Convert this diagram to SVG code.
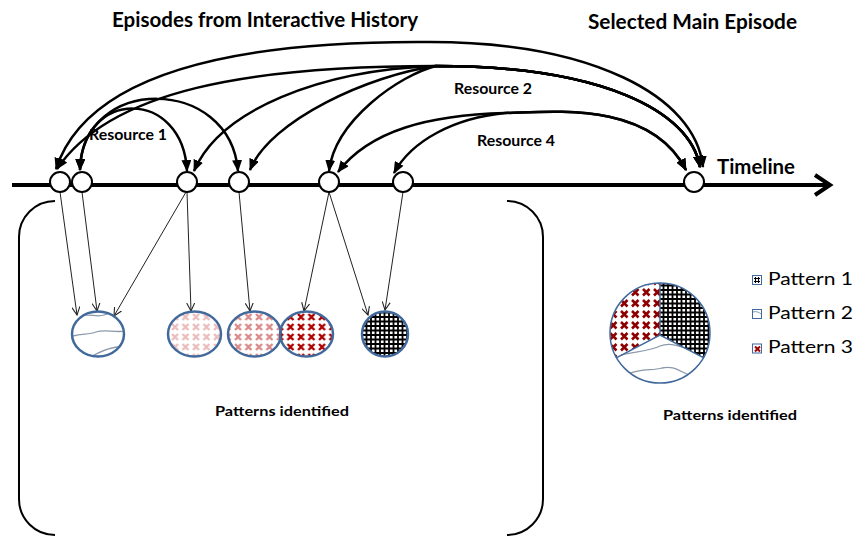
<svg xmlns="http://www.w3.org/2000/svg" width="856" height="537" viewBox="0 0 856 537">
<style>
  .t { font-family: Lato, "Liberation Sans", sans-serif; fill: #000; }
  .b { font-weight: bold; }
  .arc { fill: none; stroke: #000; stroke-width: 2.5; marker-start: url(#ah); marker-end: url(#ah); }
  .thin { fill: none; stroke: #222; stroke-width: 1; marker-end: url(#oh); }
  .ep { fill: #fff; stroke: #000; stroke-width: 2; }
  .pc { stroke: #41699b; stroke-width: 2.5; }
  .wave { fill: none; stroke: #8c99ab; stroke-width: 1.3; }
  .br { fill: none; stroke: #000; stroke-width: 2; }
</style>
<defs>
  <marker id="ah" viewBox="0 0 12 10" refX="11" refY="5" markerWidth="12" markerHeight="10" markerUnits="userSpaceOnUse" orient="auto-start-reverse">
    <path d="M0,0 L12,5 L0,10 Z" fill="#000"/>
  </marker>
  <marker id="oh" viewBox="0 0 10 10" refX="9" refY="5" markerWidth="9" markerHeight="9" markerUnits="userSpaceOnUse" orient="auto">
    <path d="M0,0.5 L9,5 L0,9.5" fill="none" stroke="#222" stroke-width="1.2"/>
  </marker>
  <pattern id="xDark" patternUnits="userSpaceOnUse" width="10.5" height="10" x="2" y="2">
    <path d="M2,2 L8,8 M8,2 L2,8" stroke="#ad0000" stroke-width="2.4"/>
  </pattern>
  <pattern id="xMid" patternUnits="userSpaceOnUse" width="10.5" height="10" x="2" y="2">
    <path d="M2,2 L8,8 M8,2 L2,8" stroke="#d98a8a" stroke-width="2.4"/>
  </pattern>
  <pattern id="xLight" patternUnits="userSpaceOnUse" width="10.5" height="10" x="2" y="2">
    <path d="M2,2 L8,8 M8,2 L2,8" stroke="#ecbcbc" stroke-width="2.4"/>
  </pattern>
  <pattern id="xPie" patternUnits="userSpaceOnUse" width="11" height="11" x="3" y="1">
    <path d="M2,2 L8.5,8.5 M8.5,2 L2,8.5" stroke="#8e0000" stroke-width="2.6"/>
  </pattern>
  <pattern id="grid" patternUnits="userSpaceOnUse" width="9" height="9" x="0" y="0">
    <path d="M2,0 V9 M6.5,0 V9 M0,2 H9 M0,6.5 H9" stroke="#000" stroke-width="1.8"/>
  </pattern>
  <clipPath id="clipA"><ellipse cx="98" cy="334" rx="25" ry="21.5"/></clipPath>
  <clipPath id="clipPieBottom"><path d="M660,335 L616.7,357.7 A50,50 0 0,0 703.3,357.7 Z"/></clipPath>
</defs>

<rect width="856" height="537" fill="#fff"/>

<!-- titles -->
<text class="t b" x="112" y="27" font-size="20" textLength="306" lengthAdjust="spacingAndGlyphs">Episodes from Interactive History</text>
<text class="t b" x="588" y="29" font-size="20" textLength="209" lengthAdjust="spacingAndGlyphs">Selected Main Episode</text>

<!-- timeline -->
<g id="timeline">
  <line x1="12" y1="185" x2="829" y2="185" stroke="#000" stroke-width="4"/>
  <polyline points="815,175 830,185 815,195" fill="none" stroke="#000" stroke-width="4"/>
  <text class="t b" x="717" y="174" font-size="21" textLength="78" lengthAdjust="spacingAndGlyphs">Timeline</text>
</g>

<!-- brackets -->
<g id="bracket">
  <path class="br" d="M55,201 A36,36 0 0,0 19,237 L19,499 A36,36 0 0,0 55,535"/>
  <path class="br" d="M507,201 A36,36 0 0,1 543,237 L543,499 A36,36 0 0,1 507,535"/>
</g>

<!-- connectors -->
<g id="connectors">
  <path class="arc" d="M703,167 C695,95 590,42 430,42 C180,40 80,95 56,169"/>
  <path class="arc" d="M700,167 C690,110 600,66 436,66 C250,66 110,90 57,169"/>
  <path class="arc" d="M700,167 C690,110 600,66 436,66 C320,70 220,110 194,171"/>
  <path class="arc" d="M700,167 C690,110 600,66 436,66 C370,75 270,120 250,170"/>
  <path class="arc" d="M700,167 C690,110 600,66 436,66 C400,75 335,120 329,171"/>
  <path class="arc" d="M80,170 C82,88 183,88 187,171"/>
  <path class="arc" d="M80,170 C82,75 230,75 238,171"/>
  <path class="arc" d="M686,170 C650,100 550,112 505,113 C430,115 370,130 338,172"/>
  <path class="arc" d="M686,170 C650,100 550,112 505,113 C455,118 412,140 394,173"/>

  <path class="thin" d="M60,192 L77,315"/>
  <path class="thin" d="M82,192 L97,311"/>
  <path class="thin" d="M186,192 L114,316"/>
  <path class="thin" d="M187,192 L191,311"/>
  <path class="thin" d="M239,192 L250,311"/>
  <path class="thin" d="M329,192 L304,311"/>
  <path class="thin" d="M329,192 L368,315"/>
  <path class="thin" d="M403,192 L385,310"/>
</g>

<!-- episode nodes on the timeline -->
<g id="ep1"><circle class="ep" cx="60" cy="182" r="10"/></g>
<g id="ep2"><circle class="ep" cx="82" cy="182" r="10"/></g>
<g id="ep3"><circle class="ep" cx="187" cy="182" r="10"/></g>
<g id="ep4"><circle class="ep" cx="239" cy="182" r="10"/></g>
<g id="ep5"><circle class="ep" cx="329" cy="182" r="10"/></g>
<g id="ep6"><circle class="ep" cx="403" cy="182" r="10"/></g>
<g id="epMain"><circle class="ep" cx="694" cy="182" r="10"/></g>

<!-- resource labels -->
<text class="t b" x="89" y="140" font-size="15" textLength="78" lengthAdjust="spacingAndGlyphs">Resource 1</text>
<text class="t b" x="454" y="94" font-size="15" textLength="78" lengthAdjust="spacingAndGlyphs">Resource 2</text>
<text class="t b" x="477" y="146" font-size="15" textLength="78" lengthAdjust="spacingAndGlyphs">Resource 4</text>

<!-- pattern circles -->
<g id="patA">
  <ellipse cx="98" cy="334" rx="26" ry="22.5" fill="#fff"/>
  <g clip-path="url(#clipA)">
    <path class="wave" d="M78,317 C88,312 96,318 104,315 C112,312 118,313 126,310"/>
    <path class="wave" d="M70,337 C80,333 88,335 96,332 C106,329 114,333 126,331"/>
    <path class="wave" d="M92,356 C100,352 106,349 112,348 C118,347 122,346 126,344"/>
  </g>
  <ellipse class="pc" cx="98" cy="334" rx="26" ry="22.5" fill="none"/>
</g>
<g id="patB"><ellipse class="pc" cx="194.5" cy="334" rx="26.5" ry="22.5" fill="url(#xLight)"/></g>
<g id="patC"><ellipse class="pc" cx="254.5" cy="334" rx="26.5" ry="22.5" fill="url(#xMid)"/></g>
<g id="patD"><ellipse class="pc" cx="306.5" cy="334" rx="26.5" ry="22.5" fill="url(#xDark)"/></g>
<g id="patE"><ellipse class="pc" cx="385" cy="334" rx="23" ry="22.5" fill="url(#grid)"/></g>

<text class="t b" x="215" y="416" font-size="14" textLength="134" lengthAdjust="spacingAndGlyphs">Patterns identified</text>

<!-- main pie -->
<g id="pie">
  <circle cx="660" cy="333" r="50" fill="#fff"/>
  <path d="M660,335 L660,283 A50,50 0 0,0 616.7,357.7 Z" fill="url(#xPie)"/>
  <path d="M660,335 L660,283 A50,50 0 0,1 703.3,357.7 Z" fill="url(#grid)"/>
  <g clip-path="url(#clipPieBottom)">
    <path class="wave" d="M612,358 C628,351 645,353 660,346 C675,340 690,352 708,356"/>
    <path class="wave" d="M628,374 C642,368 652,371 662,368 C674,365 680,372 692,376"/>
  </g>
  <path d="M616.7,357.7 L660,335 L703.3,357.7 M660,335 L660,283" fill="none" stroke="#41699b" stroke-width="1.5"/>
  <circle cx="660" cy="333" r="50" fill="none" stroke="#41699b" stroke-width="1.5"/>
</g>
<text class="t b" x="663" y="420" font-size="14" textLength="134" lengthAdjust="spacingAndGlyphs">Patterns identified</text>

<!-- legend -->
<g id="legend1">
  <rect x="752.5" y="275.5" width="9" height="9" fill="#fff" stroke="#41699b" stroke-width="1"/>
  <path d="M755.5,277 V283 M758.5,277 V283 M754,278.5 H760 M754,281.5 H760" stroke="#000" stroke-width="1.1"/>
  <text class="t" x="768" y="284.5" font-size="17" textLength="85" lengthAdjust="spacingAndGlyphs">Pattern 1</text>
</g>
<g id="legend2">
  <rect x="752.5" y="309.5" width="9" height="9" fill="#fff" stroke="#41699b" stroke-width="1"/>
  <path d="M753,312 C756,311 759,312 761,314" fill="none" stroke="#8c99ab" stroke-width="1"/>
  <text class="t" x="768" y="318.5" font-size="17" textLength="85" lengthAdjust="spacingAndGlyphs">Pattern 2</text>
</g>
<g id="legend3">
  <rect x="752.5" y="344" width="9" height="9" fill="#fff" stroke="#41699b" stroke-width="1"/>
  <path d="M755,346.5 L760,351.5 M760,346.5 L755,351.5" stroke="#a00000" stroke-width="2"/>
  <text class="t" x="768" y="353" font-size="17" textLength="85" lengthAdjust="spacingAndGlyphs">Pattern 3</text>
</g>
</svg>
